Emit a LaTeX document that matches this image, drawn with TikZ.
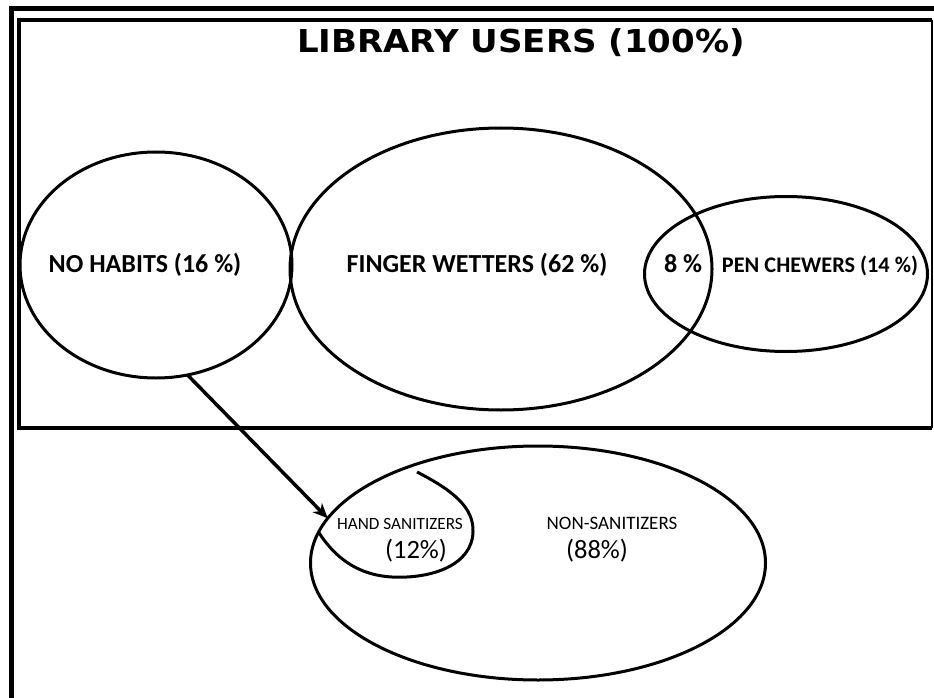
\documentclass[tikz,border=0pt]{standalone}
\usepackage{fontspec}
\setmainfont{Carlito}
\newfontfamily\titlefont{DejaVu Sans}
\usetikzlibrary{shapes.geometric,arrows.meta,positioning}
\tikzset{>={Stealth[length=15pt,width=13pt]}}
\colorlet{penColor}{black}
\tikzset{
  venn/.style={draw=penColor, ellipse, line width=3pt, inner sep=0pt, outer sep=0pt},
  vennline/.style={draw=penColor, line width=3pt},
  bigtext/.style={anchor=base, inner sep=0pt, font=\bfseries\fontsize{26}{30}\selectfont},
  smalltext/.style={anchor=base, inner sep=0pt, font=\fontsize{#1}{#1}\selectfont}
}

\begin{document}
\begin{tikzpicture}[x=1pt,y=-1pt]
  \useasboundingbox (0,0) rectangle (934,698);
  % frames
  \draw[penColor, line width=5pt] (11,698) -- (11,9) -- (934,9);
  \draw[penColor, line width=4pt] (932,20) -- (19,20) -- (19,428) -- (932,428);
  \draw[penColor, line width=2pt] (932,20) -- (932,428);
  \node[anchor=base, inner sep=0pt] (title) at (521,53)
    {\titlefont\bfseries\fontsize{31.5}{36}\selectfont\scalebox{1.08}[1]{LIBRARY USERS (100\%)}};
  % the three groups
  \node[venn, minimum width=272pt, minimum height=226pt] (nohabits) at (156,265) {};
  \node[venn, minimum width=422pt, minimum height=282pt] (fingerwet) at (501,269) {};
  \node[venn, minimum width=283pt, minimum height=155pt] (penchew) at (786,274) {};
  \node[bigtext] (t-nohabits) at (145,272) {NO HABITS (16 \%)};
  \node[bigtext] (t-fingerwet) at (477,272) {FINGER WETTERS (62 \%)};
  \node[bigtext] (t-both) at (683,272) {8 \%};
  \node[bigtext, font=\bfseries\fontsize{22.3}{26}\selectfont] (t-penchew) at (820,272) {PEN CHEWERS (14 \%)};
  % sanitizers
  \node[venn, minimum width=455pt, minimum height=234pt] (nonsan) at (538,563) {};
  \coordinate (hs-start) at (417,472);
  \draw[vennline] (hs-start) .. controls (452,490) and (474,507) .. (473,532)
    .. controls (472,565) and (432,579) .. (392,577)
    .. controls (356,575) and (334,556) .. (nonsan.172.7);
  \node[smalltext=17.2] (t-handsan) at (400,529) {HAND SANITIZERS};
  \node[smalltext=26.5] (t-handpct) at (416,558) {(12\%)};
  \node[smalltext=19] (t-nonsan) at (612,529) {NON-SANITIZERS};
  \node[smalltext=26.5] (t-nonpct) at (597,558) {(88\%)};
  \draw[vennline, line width=3.5pt, ->] (nohabits.-74) -- (nonsan.168);
\end{tikzpicture}
\end{document}
